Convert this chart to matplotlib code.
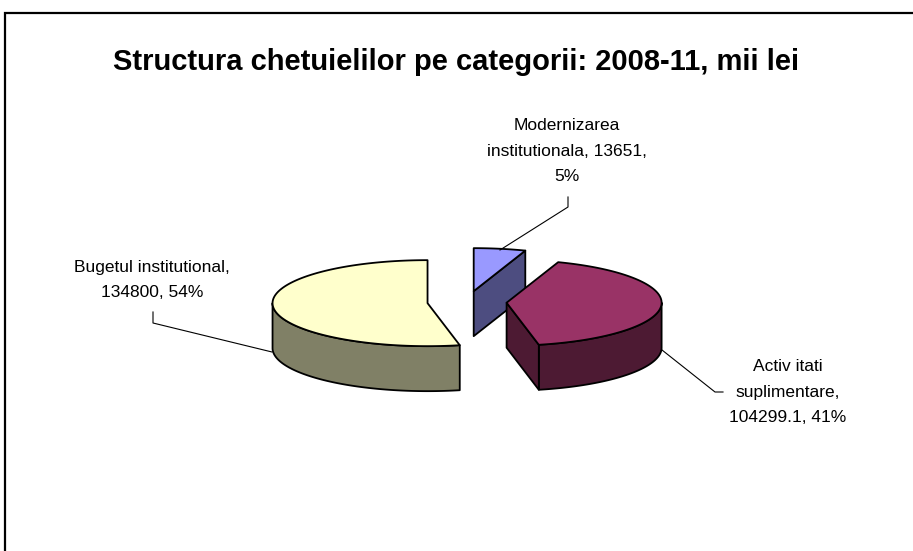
import numpy as np
import matplotlib
matplotlib.use('Agg')
import matplotlib.pyplot as plt
from matplotlib.patches import Polygon

plt.rcParams['font.family'] = ['Liberation Sans', 'DejaVu Sans']

# data (slice order: clockwise from 12 o'clock, as in the Excel chart)
names = ['Modernizarea\ninstitutionala', 'Activ itati\nsuplimentare', 'Bugetul institutional']
values = [13651, 104299.1, 134800]
pcts = [5, 41, 54]
top_colors = ['#9999FF', '#993366', '#FFFFCC']
side_colors = ['#4D4D80', '#4D1A33', '#808066']

TITLE = 'Structura chetuielilor pe categorii: 2008-11, mii lei'

# pie geometry in pixel space
CX, CY = 467, 302
RX, RY = 155, 43
DEPTH = 45
EXPLODE = 0.256

W, H = 913, 551
fig = plt.figure(figsize=(W / 100, H / 100), dpi=100)
ax = fig.add_axes([0, 0, 1, 1])
ax.set_xlim(0, W)
ax.set_ylim(H, 0)
ax.axis('off')


def pt(theta, r=1.0, ox=0.0, oy=0.0):
    t = np.radians(theta)
    return ox + RX * r * np.sin(t), oy - RY * r * np.cos(t)


total = sum(values)
angles = np.concatenate([[0], np.cumsum(values) / total * 360])

slices = []
for i in range(len(values)):
    a0, a1 = angles[i], angles[i + 1]
    mid = (a0 + a1) / 2
    ox, oy = pt(mid, EXPLODE, CX, CY)
    slices.append((a0, a1, ox, oy))

# draw back to front
for i in [0, 2, 1]:
    a0, a1, ox, oy = slices[i]
    th = np.linspace(a0, a1, 200)
    xs, ys = pt(th, 1.0, ox, oy)
    kw = dict(edgecolor='black', linewidth=1.3, joinstyle='round')

    # outer wall (front half only)
    lo, hi = max(a0, 90), min(a1, 270)
    if hi > lo:
        tw = np.linspace(lo, hi, 200)
        wx, wy = pt(tw, 1.0, ox, oy)
        poly = np.column_stack([np.r_[wx, wx[::-1]], np.r_[wy, wy[::-1] + DEPTH]])
        ax.add_patch(Polygon(poly, closed=True, facecolor=side_colors[i], **kw))

    # radial faces facing the viewer
    for a, vis in [(a0, -np.sin(np.radians(a0)) > 1e-6), (a1, np.sin(np.radians(a1)) > 1e-6)]:
        if vis:
            ex, ey = pt(a, 1.0, ox, oy)
            poly = [(ox, oy), (ex, ey), (ex, ey + DEPTH), (ox, oy + DEPTH)]
            ax.add_patch(Polygon(poly, closed=True, facecolor=side_colors[i], **kw))

    # top face
    poly = np.column_stack([np.r_[ox, xs], np.r_[oy, ys]])
    ax.add_patch(Polygon(poly, closed=True, facecolor=top_colors[i], **kw))


def fmt(v):
    return '{:.10g}'.format(v)


labels = [
    f'{names[0]}, {fmt(values[0])},\n{pcts[0]}%',
    f'{names[1]},\n{fmt(values[1])}, {pcts[1]}%',
    f'{names[2]},\n{fmt(values[2])}, {pcts[2]}%',
]
label_pos = [(567, 151), (788, 392), (152, 280)]
leaders = [
    [(568, 197), (568, 207), (500, 250)],
    [(662, 350), (715, 392), (723, 392)],
    [(153, 312), (153, 323), (272, 352)],
]

for txt, (lx, ly), ld in zip(labels, label_pos, leaders):
    ax.text(lx, ly, txt, ha='center', va='center', fontsize=12.5,
            linespacing=1.85, color='black')
    lx_, ly_ = zip(*ld)
    ax.plot(lx_, ly_, color='black', lw=0.8)

ax.text(456, 62, TITLE, ha='center', va='center', fontsize=21,
        fontweight='bold', color='black')

# chart frame (extends beyond the image on the right/bottom)
ax.plot([5, 5, W + 5], [H + 5, 12.5, 12.5], color='black', lw=1.6,
        solid_joinstyle='miter')

fig.savefig('out.png', dpi=100, facecolor='white')
